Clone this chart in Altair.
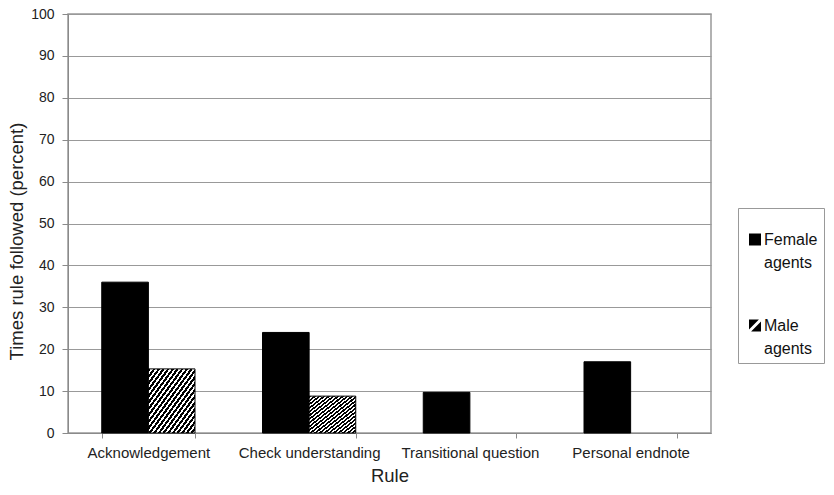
import altair as alt
import pandas as pd

rules = ["Acknowledgement", "Check understanding", "Transitional question", "Personal endnote"]
series = ["Female agents", "Male agents"]
female = [36.0, 24.0, 9.7, 17.0]
male = [15.3, 8.8, 0.0, 0.0]

rows = []
for r, f, m in zip(rules, female, male):
    rows.append({"rule": r, "series": series[0], "value": f})
    rows.append({"rule": r, "series": series[1], "value": m})
df = pd.DataFrame(rows)


def hatch(n, frac=0.55):
    stops = []
    for i in range(n):
        a = i / n
        b = (i + frac) / n
        c = (i + 1) / n
        stops += [
            {"offset": a, "color": "black"},
            {"offset": b, "color": "black"},
            {"offset": b, "color": "white"},
            {"offset": c, "color": "white"},
        ]
    return {"gradient": "linear", "x1": 0, "y1": 0, "x2": 1, "y2": 1, "stops": stops}


bar_hatch = hatch(20)

# legend swatches: plain square, and square with a white diagonal slash
sym_female = "M-1,-1H1V1H-1Z"
sym_male = "M-1,-1H0.65L-1,0.65Z M1,-0.65V1H-0.65Z"

FONT = "Liberation Sans"
GRAY = "#999999"
AXGRAY = "#8a8a8a"

base = alt.Chart(df).encode(
    x=alt.X(
        "rule:N",
        sort=rules,
        scale=alt.Scale(paddingInner=0.42, paddingOuter=0.21),
        axis=alt.Axis(
            title="Rule",
            labelAngle=0,
            tickBand="extent",
            tickSize=5,
            tickColor=AXGRAY,
            domainColor=AXGRAY,
            labelPadding=7,
            labelFontSize=15,
            titlePadding=6,
            titleFontSize=18.5,
        ),
    ),
    xOffset=alt.XOffset("series:N", sort=series, scale=alt.Scale(domain=series, paddingInner=0, paddingOuter=0)),
    y=alt.Y(
        "value:Q",
        scale=alt.Scale(domain=[0, 100], nice=False),
        axis=alt.Axis(
            title="Times rule followed (percent)",
            values=list(range(0, 101, 10)),
            grid=True,
            gridColor=GRAY,
            tickSize=6,
            tickColor=AXGRAY,
            domainColor=AXGRAY,
            labelPadding=8,
            labelFontSize=14,
            titlePadding=4,
            titleFontSize=18.5,
            titleY=227,
        ),
    ),
)

female_bars = base.transform_filter(
    "datum.value > 0 && datum.series === 'Female agents'"
).mark_bar(stroke="black", strokeWidth=1, fill="black")

male_bars = base.transform_filter(
    "datum.value > 0 && datum.series === 'Male agents'"
).mark_bar(stroke="black", strokeWidth=1, fill=bar_hatch)

legend_layer = alt.Chart(df).transform_filter("false").mark_point(filled=True, color="black").encode(
    shape=alt.Shape(
        "series:N",
        sort=series,
        scale=alt.Scale(domain=series, range=[sym_female, sym_male]),
        legend=alt.Legend(
            title=" ",
            titleFontSize=5,
            titlePadding=12.5,
            orient="none",
            legendX=670,
            legendY=194,
            strokeColor=GRAY,
            padding=6,
            symbolOffset=3,
            symbolSize=144,
            symbolFillColor="black",
            symbolStrokeWidth=0,
            symbolOpacity=1,
            labelFontSize=16,
            labelFont=FONT,
            labelColor="#111",
            labelOffset=1,
            rowPadding=46,
            labelExpr="split(datum.label, ' ')",
        ),
    )
)

chart = (
    alt.layer(female_bars, male_bars, legend_layer)
    .properties(
        width=643,
        height=419,
        padding={"left": 60, "top": 6, "right": 115, "bottom": 54},
        autosize=alt.AutoSizeParams(type="none"),
    )
    .configure(style={"guide-label": {"lineHeight": 23.5}})
    .configure_view(stroke=GRAY, strokeWidth=1.5)
    .configure_axis(labelFont=FONT, titleFont=FONT, labelColor="#222", titleColor="#222", titleFontWeight="normal")
)

chart.save("out.html", embed_options={"renderer": "svg", "actions": False})
